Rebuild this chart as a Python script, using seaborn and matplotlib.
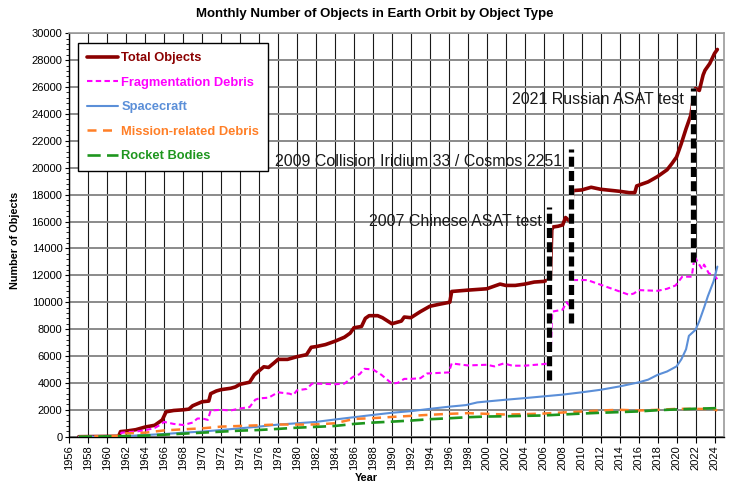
import matplotlib
matplotlib.use("Agg")
import matplotlib.pyplot as plt
from matplotlib.ticker import MultipleLocator
from matplotlib.lines import Line2D
import seaborn as sns
import pandas as pd

# Catalogued objects in Earth orbit, (year, count) read month by month
total_objects = [
    (1957.0, 0), (1961.2, 30), (1961.4, 380), (1962.0, 420), (1963.0, 520),
    (1964.0, 720), (1965.0, 850), (1965.5, 1100), (1965.8, 1250), (1966.2, 1850),
    (1967.0, 1950), (1968.0, 2000), (1968.6, 2050), (1969.0, 2300), (1970.0, 2600),
    (1970.7, 2650), (1970.9, 3200), (1971.5, 3400), (1972.0, 3500), (1973.0, 3600),
    (1973.5, 3700), (1974.0, 3900), (1975.0, 4050), (1975.5, 4600), (1976.0, 4900),
    (1976.5, 5200), (1977.0, 5150), (1977.6, 5500), (1978.0, 5750), (1979.0, 5750),
    (1980.0, 5950), (1981.0, 6100), (1981.5, 6650), (1982.0, 6700), (1983.0, 6850),
    (1984.0, 7100), (1985.0, 7400), (1985.6, 7700), (1986.0, 8100), (1986.8, 8200),
    (1987.2, 8800), (1987.6, 9000), (1988.5, 9000), (1989.0, 8850), (1990.0, 8400),
    (1990.5, 8500), (1991.0, 8600), (1991.3, 8900), (1992.0, 8850), (1993.0, 9300),
    (1994.0, 9700), (1995.0, 9850), (1996.1, 10000), (1996.3, 10800), (1998.0, 10900),
    (2000.0, 11000), (2001.4, 11350), (2002.0, 11250), (2003.0, 11250), (2004.0, 11350),
    (2005.0, 11500), (2006.0, 11550), (2006.7, 11700), (2006.85, 15400), (2007.0, 15600),
    (2007.5, 15650), (2008.0, 15750), (2008.3, 16300), (2008.7, 16050), (2008.9, 16150),
    (2009.05, 18300), (2010.0, 18350), (2011.0, 18550), (2012.0, 18400), (2014.0, 18250),
    (2015.0, 18150), (2015.6, 18150), (2015.8, 18650), (2017.0, 18950), (2018.0, 19350),
    (2019.0, 19850), (2019.5, 20300), (2020.0, 20800), (2020.5, 21800), (2021.0, 22900),
    (2021.5, 23900), (2021.9, 25700), (2022.0, 25900), (2022.4, 25750), (2022.8, 26900),
    (2023.0, 27250), (2023.5, 27750), (2024.0, 28500), (2024.3, 28800),
]

fragmentation_debris = [
    (1957.0, 0), (1961.3, 0), (1961.5, 300), (1962.0, 320), (1963.0, 380),
    (1964.0, 480), (1965.0, 650), (1965.5, 850), (1966.0, 1100), (1967.0, 950),
    (1968.0, 870), (1969.0, 1050), (1969.5, 1350), (1970.0, 1360), (1970.6, 1250),
    (1970.9, 1950), (1972.0, 2000), (1973.0, 1950), (1974.0, 2100), (1975.0, 2200),
    (1975.6, 2750), (1976.0, 2850), (1977.0, 2900), (1978.0, 3300), (1979.2, 3200),
    (1979.6, 3100), (1980.0, 3450), (1981.0, 3550), (1981.6, 3950), (1982.0, 3950),
    (1984.0, 3900), (1985.0, 3950), (1985.9, 4450), (1986.6, 4650), (1987.1, 5050),
    (1988.0, 5000), (1988.9, 4600), (1990.0, 3950), (1990.6, 4000), (1991.3, 4300),
    (1992.0, 4300), (1993.0, 4350), (1993.7, 4700), (1996.0, 4780), (1996.3, 5450),
    (1998.0, 5300), (2000.0, 5350), (2000.8, 5230), (2001.8, 5450), (2002.7, 5280),
    (2004.0, 5280), (2006.0, 5400), (2006.7, 5480), (2006.9, 9300), (2008.0, 9450),
    (2008.4, 10000), (2008.9, 9600), (2009.1, 11650), (2010.6, 11650), (2012.0, 11300),
    (2014.0, 10800), (2015.0, 10550), (2015.5, 10650), (2016.0, 10900), (2018.0, 10850),
    (2019.0, 11000), (2019.9, 11250), (2020.6, 11900), (2021.6, 11900), (2021.9, 13400),
    (2022.3, 12900), (2022.7, 12450), (2022.9, 12800), (2023.4, 12150), (2024.0, 12000),
    (2024.3, 11700),
]

spacecraft = [
    (1957.0, 0), (1960.0, 10), (1962.0, 50), (1964.0, 125), (1966.0, 200),
    (1968.0, 300), (1970.0, 380), (1972.0, 500), (1974.0, 625), (1976.0, 750),
    (1978.0, 900), (1980.0, 1000), (1982.0, 1100), (1984.0, 1280), (1986.0, 1450),
    (1988.0, 1620), (1990.0, 1780), (1992.0, 1900), (1994.0, 2070), (1996.0, 2230),
    (1997.8, 2350), (1999.0, 2550), (2000.0, 2620), (2002.0, 2750), (2004.0, 2870),
    (2006.0, 3000), (2008.0, 3130), (2010.0, 3300), (2012.0, 3490), (2014.0, 3740),
    (2016.0, 4040), (2017.0, 4240), (2018.0, 4600), (2019.0, 4850), (2020.0, 5230),
    (2020.5, 5750), (2021.0, 6500), (2021.3, 7500), (2022.0, 7950), (2022.4, 8600),
    (2022.9, 9600), (2023.3, 10450), (2023.9, 11550), (2024.3, 12650),
]

mission_related_debris = [
    (1957.0, 0), (1961.0, 50), (1962.0, 250), (1964.0, 300), (1966.0, 470),
    (1968.0, 550), (1970.0, 620), (1972.0, 750), (1974.0, 800), (1976.0, 850),
    (1978.0, 910), (1980.0, 900), (1982.0, 910), (1984.0, 1000), (1986.0, 1320),
    (1988.0, 1380), (1990.0, 1470), (1992.0, 1550), (1994.0, 1630), (1996.0, 1700),
    (1998.0, 1750), (2000.0, 1700), (2002.0, 1650), (2004.0, 1680), (2006.0, 1720),
    (2008.0, 1800), (2010.0, 1870), (2012.0, 1950), (2014.0, 2000), (2016.0, 1950),
    (2018.0, 2000), (2020.0, 2070), (2022.0, 2070), (2024.0, 2050), (2024.3, 1930),
]

rocket_bodies = [
    (1957.0, 0), (1960.0, 20), (1962.0, 50), (1964.0, 80), (1966.0, 150),
    (1968.0, 225), (1970.0, 300), (1972.0, 375), (1974.0, 450), (1976.0, 500),
    (1978.0, 580), (1980.0, 670), (1982.0, 730), (1984.0, 800), (1986.0, 950),
    (1988.0, 1050), (1990.0, 1120), (1992.0, 1200), (1994.0, 1300), (1996.0, 1370),
    (1998.0, 1450), (2000.0, 1500), (2002.0, 1520), (2004.0, 1550), (2006.0, 1580),
    (2008.0, 1650), (2010.0, 1720), (2012.0, 1780), (2014.0, 1830), (2016.0, 1880),
    (2018.0, 1970), (2020.0, 2030), (2022.0, 2080), (2024.0, 2120), (2024.3, 2120),
]

# Debris-generating events: (year, lower count, upper count) of the marker line
event_lines = [(2006.6, 4200, 17100), (2008.9, 8450, 21400), (2021.75, 13000, 25950)]
event_labels = ["2007 Chinese ASAT test",
                "2009 Collision Iridium 33 / Cosmos 2251",
                "2021 Russian ASAT test"]
event_label_at = [(2005.8, 16000), (2007.9, 20500), (2020.8, 25100)]

series_names = ["Total Objects", "Fragmentation Debris", "Spacecraft",
                "Mission-related Debris", "Rocket Bodies"]
series_data = [total_objects, fragmentation_debris, spacecraft,
               mission_related_debris, rocket_bodies]

sns.set_theme(style="white")
plt.rcParams["font.family"] = ["Liberation Sans", "DejaVu Sans"]

colors = ["#8B0000", "#FF00FF", "#5B8FD8", "#FF7F27", "#1E961E"]
widths = [2.6, 1.5, 1.5, 1.8, 1.9]
styles = ["-", (0, (2.6, 1.6)), "-", (0, (3.6, 2.6)), (0, (5.0, 2.4))]

fig = plt.figure(figsize=(7.32, 4.82), dpi=100)
ax = fig.add_axes([69.3 / 732, 1 - 436.7 / 482, (724 - 69.3) / 732, 403.4 / 482])

for name, data, c, lw, ls in zip(series_names, series_data, colors, widths, styles):
    df = pd.DataFrame(data, columns=["Year", "Objects"])
    sns.lineplot(data=df, x="Year", y="Objects", ax=ax, color=c, linewidth=lw,
                 linestyle=ls, estimator=None, sort=False, legend=False, zorder=3)

# Event markers: black dashes over a white band
for (x, y0, y1) in event_lines:
    ax.plot([x, x], [y0, y1], color="white", linewidth=3.8, solid_capstyle="butt", zorder=5)
    ax.plot([x, x], [y0, y1], color="black", linewidth=3.8,
            linestyle=(0, (1.9, 0.8)), dash_capstyle="butt", zorder=6)

for label, (x, y) in zip(event_labels, event_label_at):
    ax.text(x, y, label, ha="right", va="center", fontsize=11.5, color="#1a1a1a", zorder=7)

ax.set_xlim(1956, 2025)
ax.set_ylim(0, 30000)
ax.xaxis.set_major_locator(MultipleLocator(2))
ax.yaxis.set_major_locator(MultipleLocator(2000))
ax.yaxis.set_minor_locator(MultipleLocator(400))

ax.grid(False)
ax.yaxis.grid(True, which="major", color="#8a8a8a", linewidth=1.4, zorder=0)
ax.xaxis.grid(True, which="major", color="#1a1a1a", linewidth=0.8, zorder=0)
ax.set_axisbelow(True)

ax.tick_params(axis="x", which="major", direction="out", length=4, width=0.8,
               labelsize=8, labelrotation=90, pad=2, color="black", bottom=True)
ax.tick_params(axis="y", which="major", direction="out", length=3, width=0.8,
               labelsize=8, pad=2, color="black", left=True)
ax.tick_params(axis="y", which="minor", direction="out", length=2, width=0.6,
               color="black", left=True)
for lab in ax.get_xticklabels() + ax.get_yticklabels():
    lab.set_color("black")

for side in ["left", "bottom"]:
    ax.spines[side].set_color("black")
    ax.spines[side].set_linewidth(1.0)
for side in ["top", "right"]:
    ax.spines[side].set_color("#9a9a9a")
    ax.spines[side].set_linewidth(1.2)

ax.set_xlabel("")
ax.set_ylabel("")
fig.text(0.512, 0.971, "Monthly Number of Objects in Earth Orbit by Object Type",
         ha="center", va="center", fontsize=9.5, fontweight="bold", color="black")
fig.text(15 / 732, 1 - 240 / 482, "Number of Objects", rotation=90,
         ha="center", va="center", fontsize=7.8, fontweight="bold", color="black")
fig.text(0.5, 1 - 478 / 482, "Year", ha="center", va="center",
         fontsize=7.8, fontweight="bold", color="black")

handles = [Line2D([0], [0], color=c, linewidth=lw, linestyle=ls)
           for c, lw, ls in zip(colors, widths, styles)]
leg = ax.legend(handles, series_names, loc="upper left", bbox_to_anchor=(0.0133, 0.976),
                borderaxespad=0, frameon=True, fancybox=False, framealpha=1,
                edgecolor="black", fontsize=9.3, handlelength=2.4, handletextpad=0.25,
                labelspacing=0.97, borderpad=0.7)
leg.get_frame().set_linewidth(1.0)
leg.set_zorder(8)
for txt, c in zip(leg.get_texts(), colors):
    txt.set_color(c)
    txt.set_fontweight("bold")

fig.savefig("out.png", dpi=100, facecolor="white")
